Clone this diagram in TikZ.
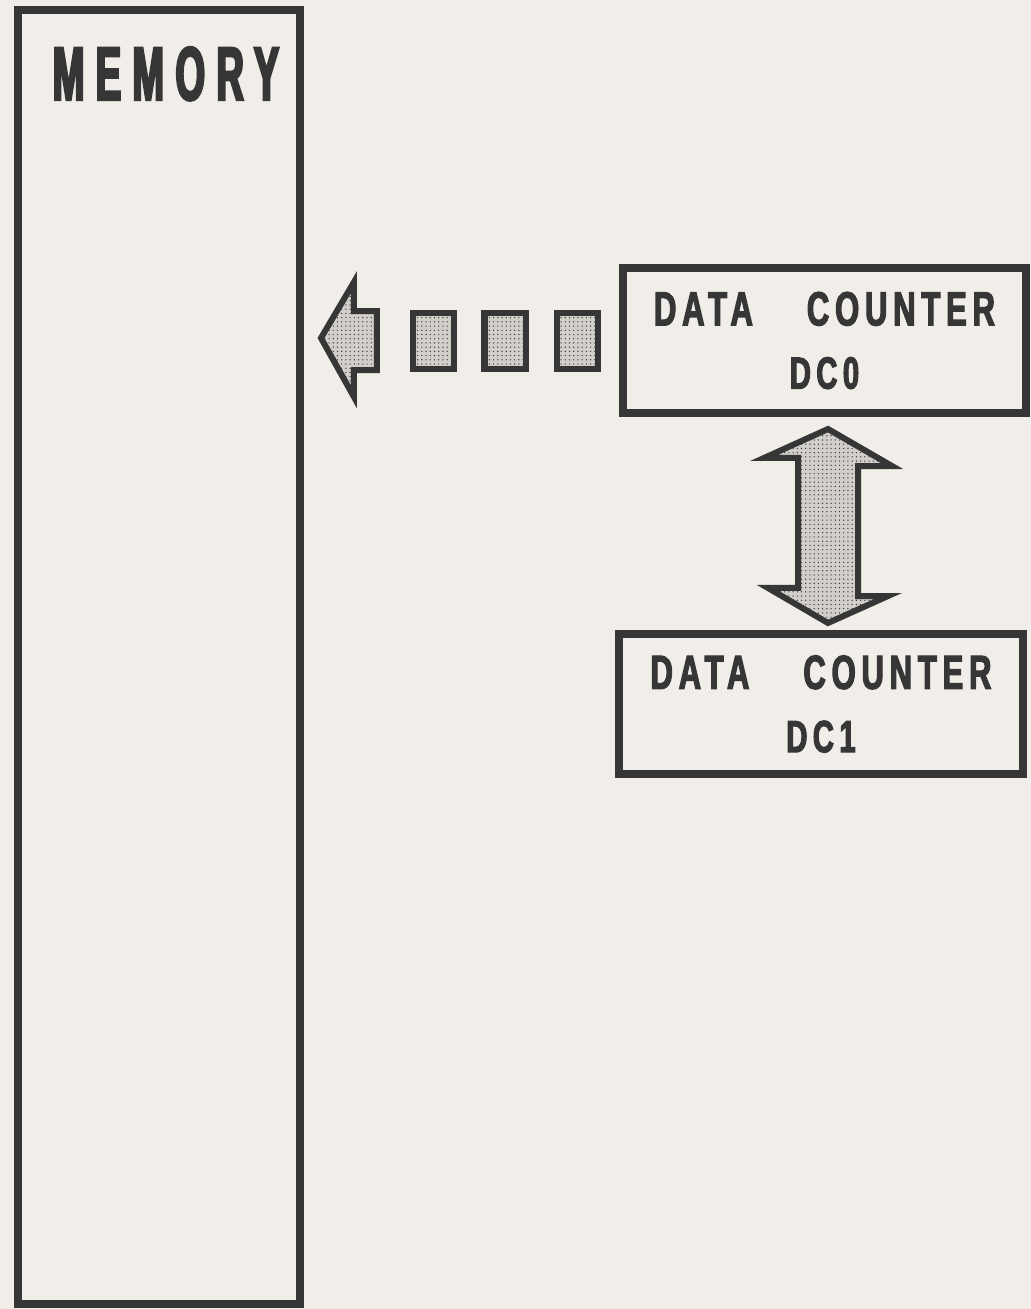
\documentclass[tikz,border=0pt]{standalone}
\usepackage{fontspec}
\usepackage{tikz}
\usetikzlibrary{positioning, calc, patterns}
\newfontfamily\memfont[FakeStretch=0.5, LetterSpace=15, FakeBold=3]{Liberation Sans Bold}
\newfontfamily\ctrfont[FakeStretch=0.65, LetterSpace=12, FakeBold=2.5]{Liberation Sans Bold}
\definecolor{ink}{HTML}{363636}
\definecolor{paper}{HTML}{F1EEE9}
\definecolor{screen}{HTML}{D2CFCA}

\tikzset{
    regbox/.style={draw=ink, line width=0.2cm, fill=paper, align=center, text=ink, inner sep=0pt},
    pktbox/.style={draw=ink, line width=0.15cm, preaction={fill=screen}, pattern=dots, pattern color=ink,
        minimum width=1.025cm, minimum height=1.4cm, inner sep=0pt},
    blockarrow/.style={draw=ink, line width=0.15cm, line join=miter, preaction={fill=screen}, pattern=dots, pattern color=ink}
}

\begin{document}
\begin{tikzpicture}[x=0.025cm, y=-0.025cm]
    \fill[paper] (0,0) rectangle (1031,1309);
    \useasboundingbox (0,0) rectangle (1031,1309);

    % memory column
    \node[regbox, minimum width=7.05cm, minimum height=32.35cm] (memory) at (159,657) {};
    \node[anchor=base, text=ink, font=\memfont\fontsize{54}{54}\selectfont] (memlabel) at (166,100) {MEMORY};

    % data counters
    \node[regbox, minimum width=10.075cm, minimum height=3.625cm,
          font=\ctrfont\fontsize{34}{45}\selectfont] (dc0) at (824.5,340.5)
          {DATA\hspace{1.35cm}COUNTER\\{\fontsize{32}{45}\selectfont DC0}};
    \node[regbox, minimum width=10.1cm, minimum height=3.5cm,
          font=\ctrfont\fontsize{34}{45}\selectfont] (dc1) at (821,704)
          {DATA\hspace{1.35cm}COUNTER\\{\fontsize{32}{45}\selectfont DC1}};

    % address going out to memory
    \node[pktbox] (pkt1) at (433.5,341) {};
    \node[pktbox] (pkt2) at (505,341) {};
    \node[pktbox] (pkt3) at (577.5,341) {};
    \draw[blockarrow] ($(pkt1.west)+(-33,-30)$) coordinate (shaftTop)
        -- ++(-23,0) -- ++(0,-29) -- ($(pkt1.west)+(-89,-3)$) coordinate (tipMem)
        -- ++(33,59) -- ++(0,-27) -- ++(23,0) -- cycle;

    % swap between DC0 and DC1
    \draw[blockarrow] ($(dc0.south)+(3.5,12)$) coordinate (tipUp)
        -- ++(64,37) -- ++(-34,0) -- ++(0,130) -- ++(30,0)
        -- ($(dc1.north)+(7,-7)$) coordinate (tipDown)
        -- ++(-60,-35) -- ++(30,0) -- ++(0,-130) -- ++(-34,0) -- cycle;
\end{tikzpicture}
\end{document}
